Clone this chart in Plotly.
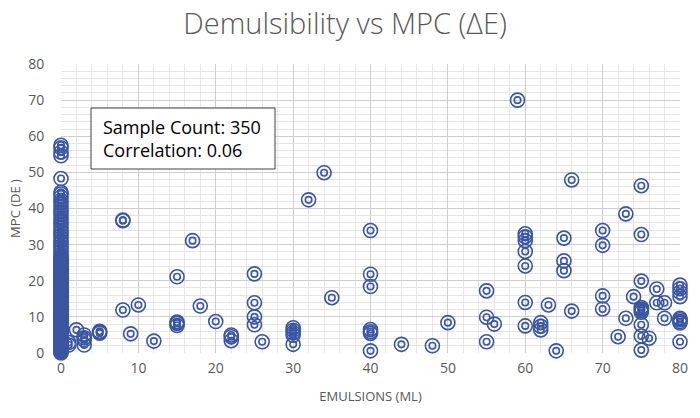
import plotly.graph_objects as go

# ---------------- data ----------------
zero_col_y = [57.5, 56.8, 55.6, 54.6, 48.3, 44.5, 44.0, 43.2, 42.3, 41.5, 40.6,
              39.8, 39.0, 38.2, 37.3, 36.5, 35.6, 34.8, 34.0, 33.3, 32.5, 31.8,
              31.0, 30.3, 29.6, 28.9, 28.2, 27.5, 26.8, 26.3, 25.8, 25.4, 24.9,
              24.5, 24.0, 23.6, 23.1, 22.7, 22.2, 21.8, 21.3, 20.9, 20.4, 20.0,
              19.5, 19.1, 18.6, 18.2, 17.7, 17.3, 16.8, 16.4, 15.9, 15.5, 15.0,
              14.6, 14.1, 13.7, 13.2, 12.8, 12.3, 11.9, 11.4, 11.0, 10.5, 10.1,
              9.6, 9.2, 8.7, 8.3, 7.8, 7.4, 6.9, 6.5, 6.0, 5.6, 5.1, 4.7, 4.2,
              3.8, 3.3, 2.9, 2.4, 2.0, 1.5, 1.1, 0.6, 0.2, 0.0,
              26.1, 25.6, 25.1, 24.7, 24.2, 23.8, 23.3, 22.9, 22.4, 22.0, 21.5,
              21.1, 20.6, 20.2, 19.7, 19.3, 18.8, 18.4, 17.9, 17.5, 17.0, 16.6,
              16.1, 15.7, 15.2, 14.8, 14.3, 13.9, 13.4, 13.0, 12.5, 12.1, 11.6,
              11.2, 10.7, 10.3, 9.8, 9.4, 8.9, 8.5, 8.0, 7.6, 7.1, 6.7, 6.2,
              5.8, 5.3, 4.9, 4.4, 4.0, 3.5, 3.1, 2.6, 2.2, 1.7, 1.3, 0.8, 0.4]

other_x = [1, 1, 2, 3, 3, 3, 3, 5, 5, 5, 8, 8, 8, 9, 10, 12, 15, 15, 15, 15,
           17, 18, 20, 22, 22, 22, 25, 25, 25, 25, 26, 30, 30, 30, 30, 30,
           32, 34, 35, 40, 40, 40, 40, 40, 40, 40, 44, 48, 50, 55, 55, 55, 56,
           59, 60, 60, 60, 60, 60, 60, 60, 62, 62, 62, 63, 64, 65, 65, 65,
           66, 66, 70, 70, 70, 70, 72, 73, 73, 74,
           75, 75, 75, 75, 75, 75, 75, 75, 75, 75, 76, 77, 77, 78, 78,
           80, 80, 80, 80, 80, 80, 80, 80, 80]
other_y = [2.9, 2.2, 6.4, 5.0, 4.2, 3.6, 2.2, 5.5, 6.0, 5.8, 11.9, 36.6, 36.8,
           5.3, 13.3, 3.3, 21.1, 8.2, 7.6, 8.6,
           31.1, 13.0, 8.7, 4.5, 3.4, 5.0, 21.9, 13.9, 10.0, 7.8, 3.1,
           7.0, 6.3, 5.6, 4.9, 2.4,
           42.4, 49.9, 15.3, 33.9, 21.8, 18.4, 6.5, 5.9, 5.4, 0.6, 2.4, 2.0,
           8.4, 17.2, 9.9, 3.1, 8.0,
           70.0, 33.0, 32.2, 31.1, 28.1, 24.1, 14.0, 7.5, 8.4, 7.4, 6.4, 13.3,
           0.6, 31.8, 25.5, 22.8, 47.9, 11.6, 33.9, 29.8, 15.8, 12.2, 4.5,
           38.5, 9.6, 15.6,
           46.3, 32.8, 19.9, 12.6, 12.2, 11.8, 11.3, 7.8, 4.7, 0.8, 4.1, 17.7,
           13.9, 13.9, 9.6,
           18.8, 17.8, 16.8, 15.6, 9.6, 9.2, 8.7, 8.3, 3.1]

x_ticks = [0, 10, 20, 30, 40, 50, 60, 70, 80]
y_ticks = [0, 10, 20, 30, 40, 50, 60, 70, 80]
title_text = "Demulsibility vs MPC (ΔE)"
x_title = "EMULSIONS (ML)"
y_title = "MPC (DE )"
box_lines = ["Sample Count: 350", "Correlation: 0.06"]

# ---------------- figure ----------------
xs = [0] * len(zero_col_y) + other_x
ys = zero_col_y + other_y
color = "#3A56A2"

W, H = 700, 418
ML, MR, MT, MB = 61, 20, 64, 65

fig = go.Figure()
fig.add_trace(go.Scatter(x=xs, y=ys, mode="markers", hoverinfo="skip", cliponaxis=False,
                         marker=dict(symbol="circle-open", size=14, color=color,
                                     line=dict(width=1.6))))
fig.add_trace(go.Scatter(x=xs, y=ys, mode="markers", hoverinfo="skip", cliponaxis=False,
                         marker=dict(symbol="circle-open", size=6.5, color=color,
                                     line=dict(width=1.6))))

fig.update_layout(
    width=W, height=H,
    margin=dict(l=ML, r=MR, t=MT, b=MB, autoexpand=False),
    paper_bgcolor="white", plot_bgcolor="white",
    showlegend=False,
    font=dict(family="Open Sans", color="#595959"),
    title=dict(text=title_text, x=0.493, xanchor="center", y=0.943, yanchor="middle",
               font=dict(size=29, color="#595959", family="Open Sans", weight=300)),
)
fig.update_xaxes(range=[0, 80], tickvals=x_ticks, showgrid=True, gridcolor="#CFCFCF",
                 gridwidth=1, zeroline=False, showline=False, automargin=False,
                 ticks="outside", ticklen=2, tickcolor="rgba(0,0,0,0)",
                 tickfont=dict(size=14, color="#595959"),
                 minor=dict(dtick=2, showgrid=True, gridcolor="#E6E6E6", gridwidth=1),
                 title=dict(text=x_title, font=dict(size=13, color="#595959"), standoff=16))
fig.update_yaxes(range=[0, 80], tickvals=y_ticks, showgrid=True, gridcolor="#CFCFCF",
                 gridwidth=1, zeroline=False, showline=False, automargin=False,
                 ticks="outside", ticklen=13, tickcolor="rgba(0,0,0,0)",
                 tickfont=dict(size=14, color="#595959"),
                 minor=dict(dtick=2, showgrid=True, gridcolor="#E6E6E6", gridwidth=1),
                 title=dict(text=y_title, font=dict(size=13, color="#595959"), standoff=4))

# annotation box (pixel positions measured in the reference, relative to the plot area)
pw, ph = W - ML - MR, H - MT - MB
fig.add_shape(type="rect", xref="paper", yref="paper",
              x0=(91 - 61) / pw, x1=(275 - 61) / pw,
              y0=(353 - 169) / ph, y1=(353 - 108) / ph,
              line=dict(color="#404040", width=1), fillcolor="white", layer="above")
fig.add_annotation(xref="paper", yref="paper", x=(101 - 61) / pw, y=(353 - 138) / ph,
                   xanchor="left", yanchor="middle", align="left", showarrow=False,
                   text="<br>".join(box_lines),
                   font=dict(size=18, color="#000000", family="Open Sans"))

# remove the default 8px page margin so the figure fills the window exactly
fig.write_html("out.html", config={"displayModeBar": False},
               post_script="document.body.style.margin='0';")
